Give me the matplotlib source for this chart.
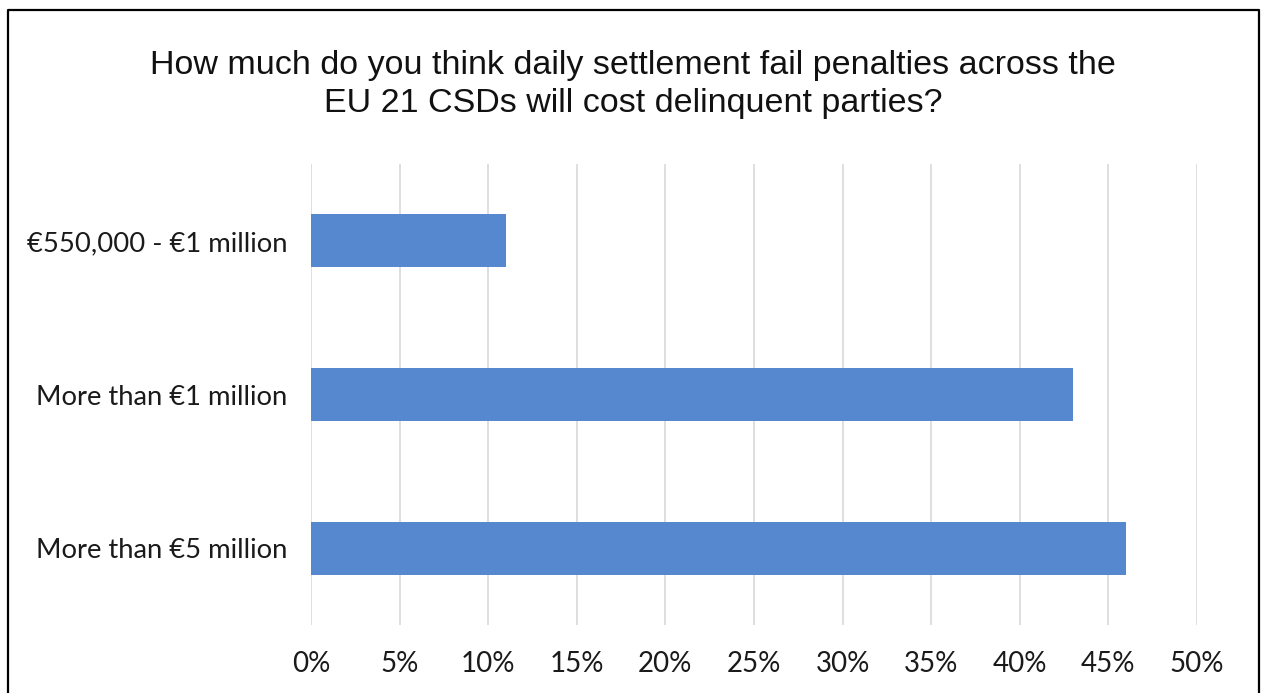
import matplotlib.pyplot as plt
from matplotlib.lines import Line2D
from matplotlib.ticker import PercentFormatter

# Survey answers and share of respondents (%)
categories = ['€550,000 - €1 million', 'More than €1 million', 'More than €5 million']
shares = [11, 43, 46]
ticks = list(range(0, 51, 5))

title = ('How much do you think daily settlement fail penalties across the\n'
         'EU 21 CSDs will cost delinquent parties?')

fig = plt.figure(figsize=(12.61, 6.93), dpi=100)
ax = fig.add_axes([0.2466, 0.0981, 0.7026, 0.6652])

ax.barh(categories, shares, height=0.345, color='#5588CF', zorder=3)
ax.set_ylim(2.5, -0.5)
ax.set_xlim(0, 50)
ax.set_xticks(ticks)
ax.xaxis.set_major_formatter(PercentFormatter(decimals=0))
ax.grid(axis='x', color='#D9D9D9', linewidth=1.2, zorder=0)
for side in ['top', 'right', 'bottom', 'left']:
    ax.spines[side].set_visible(False)
ax.tick_params(axis='both', length=0, colors='#1a1a1a')
ax.tick_params(axis='x', pad=19, labelsize=20)
ax.tick_params(axis='y', pad=17, labelsize=19.7)
for lbl in ax.get_xticklabels() + ax.get_yticklabels():
    lbl.set_fontfamily('Lato')

fig.text(0.502, 0.878, title, ha='center', va='center', fontsize=24.5,
         family='Liberation Sans', color='#111111', linespacing=1.28)

# frame around the chart (open at the bottom edge)
fx = [8 / 1261, 8 / 1261, 1259 / 1261, 1259 / 1261]
fy = [-0.01, 1 - 10 / 693, 1 - 10 / 693, -0.01]
fig.add_artist(Line2D(fx, fy, transform=fig.transFigure, color='black', linewidth=1.6))

fig.savefig('out.png', dpi=100)
